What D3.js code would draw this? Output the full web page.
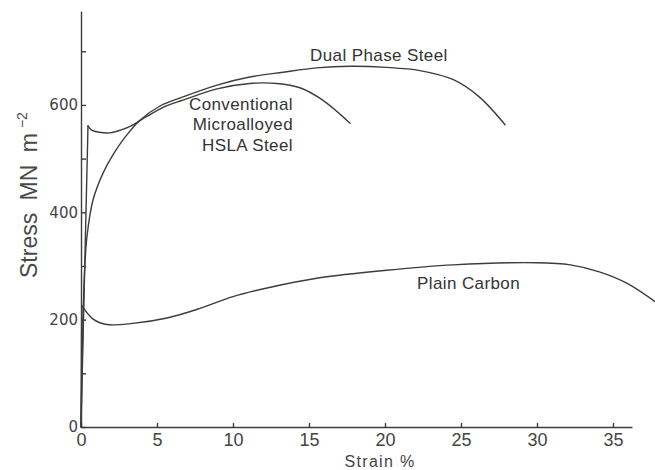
<!DOCTYPE html>
<html>
<head>
<meta charset="utf-8">
<script src="https://cdn.jsdelivr.net/npm/d3@7"></script>
<style>
  html, body { margin: 0; padding: 0; background: #fff; }
  svg { display: block; }
</style>
</head>
<body>
<svg id="chart" width="655" height="470"></svg>
<script>
// Engineering stress–strain curves for three steel grades.
// Each point is [strain %, stress MN m^-2].
const dualPhase = [
  [0, 0], [0.22, 280], [0.39, 354], [0.79, 423], [1.45, 473], [2.1, 507],
  [2.9, 540], [3.9, 572], [5.2, 598], [6.71, 615], [8.95, 637],
  [11.1, 652], [13.3, 661], [15.5, 669], [17.7, 672], [20.1, 670],
  [22.3, 664], [24.5, 647], [26.2, 615], [27.9, 563]
];
const hslaConventional = [
  [0, 0], [0.46, 561], [0.7, 553], [1.2, 549], [1.9, 548], [2.6, 553],
  [3.3, 561], [4.3, 578], [5.5, 597], [6.71, 609], [8.95, 630],
  [11.1, 640], [12.9, 640], [14.4, 632], [15.9, 609], [17.7, 566]
];
const plainCarbon = [
  [0, 0], [0.05, 226], [0.8, 201], [1.7, 191], [3.4, 193], [5.66, 203],
  [7.83, 221], [10.0, 243], [12.24, 259], [15.7, 278], [20.1, 292],
  [24.5, 302], [30.0, 306], [32.2, 302], [34.1, 289], [35.9, 268], [37.8, 233]
];
// Index of the yield point that closes each curve's straight elastic part
const yieldIndex = { dual: 0, hsla: 1, plain: 1 };

const strainTicks = [0, 5, 10, 15, 20, 25, 30, 35];
const stressTicks = [0, 100, 200, 300, 400, 500, 600, 700];
const stressLabels = [0, 200, 400, 600];

const ink = "#3d3d3d";
const svg = d3.select("#chart");

const x = d3.scaleLinear().domain([0, 36.25]).range([81, 632]);
const y = d3.scaleLinear().domain([0, 775]).range([427, 11]);

// Axes
const xAxis = d3.axisBottom(x)
  .tickValues(strainTicks)
  .tickSize(-4)
  .tickSizeOuter(0)
  .tickPadding(6);
const yAxis = d3.axisLeft(y)
  .tickValues(stressTicks)
  .tickSize(-5)
  .tickSizeOuter(0)
  .tickPadding(3)
  .tickFormat(d => stressLabels.includes(d) ? d : "");

const gx = svg.append("g").attr("transform", `translate(0,${y(0)})`).call(xAxis);
gx.selectAll("path, line").attr("stroke", ink).attr("stroke-width", 1.4);
gx.selectAll("text")
  .attr("fill", "#444")
  .style("font-family", "'Liberation Sans', Arial, sans-serif")
  .style("font-size", "18px");

const gy = svg.append("g").attr("transform", `translate(${x(0)},0)`).call(yAxis);
gy.selectAll("path, line").attr("stroke", ink).attr("stroke-width", 1.4);
gy.selectAll("text")
  .attr("fill", "#444")
  .style("font-family", "'DejaVu Sans', sans-serif")
  .style("font-size", "15px");

// Curves: straight elastic segment up to the yield point, smooth plastic part after it
const straight = d3.line().x(d => x(d[0])).y(d => y(d[1]));
const smooth = d3.line().x(d => x(d[0])).y(d => y(d[1]))
  .curve(d3.curveCatmullRom.alpha(0.5));

function drawCurve(series, k) {
  const g = svg.append("g")
    .attr("fill", "none")
    .attr("stroke", ink)
    .attr("stroke-width", 1.4)
    .attr("stroke-linejoin", "round")
    .attr("stroke-linecap", "round");
  if (k > 0) g.append("path").attr("d", straight(series.slice(0, k + 1)));
  g.append("path").attr("d", smooth(series.slice(k)));
}
drawCurve(dualPhase, yieldIndex.dual);
drawCurve(hslaConventional, yieldIndex.hsla);
drawCurve(plainCarbon, yieldIndex.plain);

// Curve labels
const labelFont = "'Liberation Sans', Arial, sans-serif";
function label(txt, px, py, anchor) {
  svg.append("text")
    .attr("x", px).attr("y", py)
    .attr("text-anchor", anchor || "start")
    .attr("fill", "#333")
    .style("font-family", labelFont)
    .style("font-size", "17px")
    .style("letter-spacing", "0.4px")
    .text(txt);
}
label("Dual Phase Steel", 310, 61);
label("Conventional", 293, 110, "end");
label("Microalloyed", 293, 130, "end");
label("HSLA Steel", 293, 151, "end");
label("Plain Carbon", 417, 289);

// Axis titles
svg.append("text")
  .attr("x", 380).attr("y", 467)
  .attr("text-anchor", "middle")
  .attr("fill", "#444")
  .style("font-family", labelFont)
  .style("font-size", "16px")
  .style("letter-spacing", "1.3px")
  .text("Strain %");

const yTitle = svg.append("text")
  .attr("transform", "translate(37,278) rotate(-90)")
  .attr("fill", "#4a4a4a")
  .style("font-family", labelFont)
  .style("font-size", "23px")
  .style("word-spacing", "6px");
yTitle.append("tspan").text("Stress MN m");
yTitle.append("tspan")
  .attr("dx", 5).attr("dy", -10)
  .style("font-size", "14px")
  .text("\u22122");
</script>
</body>
</html>
